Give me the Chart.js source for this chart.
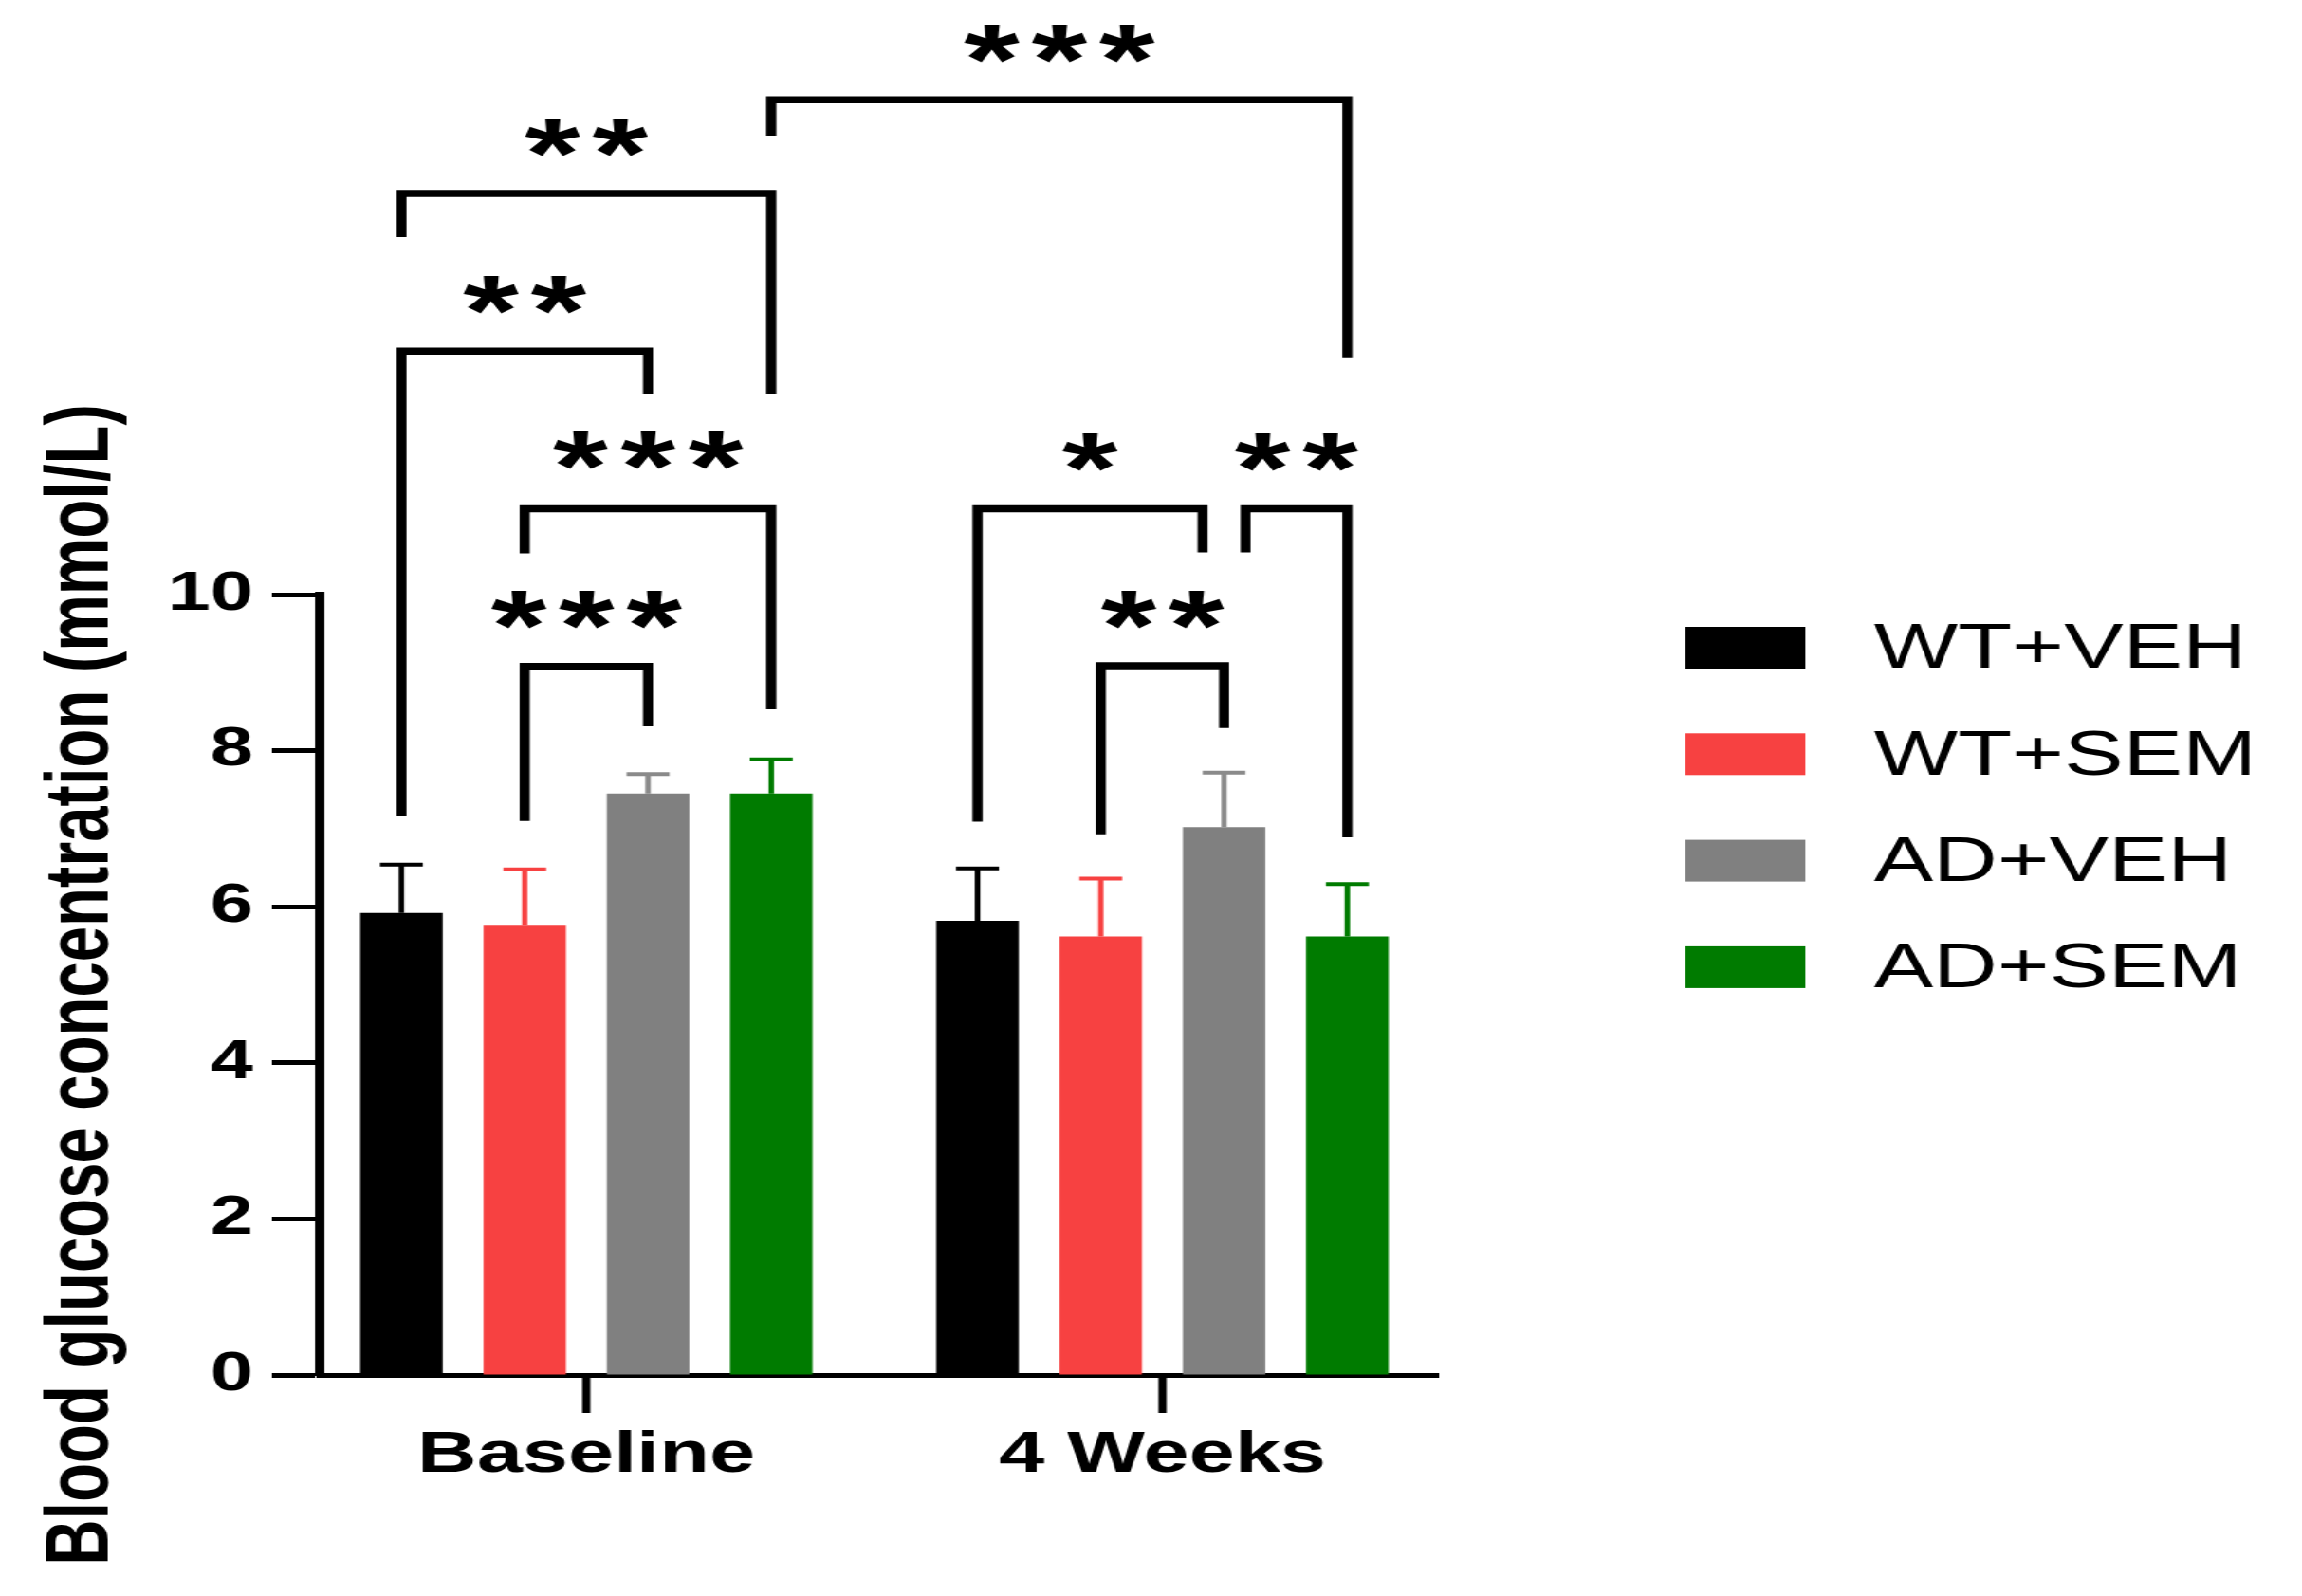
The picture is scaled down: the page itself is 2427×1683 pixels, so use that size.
<!DOCTYPE html>
<html>
<head>
<meta charset="utf-8">
<style>
  body { margin: 0; background: #fff; }
</style>
</head>
<body>
<!-- the original figure is stretched sideways, so the canvas buffer is stretched to the page width -->
<canvas id="glucose" width="1710" height="1683" style="display:block;width:2427px;height:1683px"></canvas>
<script src="https://cdn.jsdelivr.net/npm/chart.js"></script>
<script>
// data (mmol/L)
const categories = ['Baseline', '4 Weeks'];
const groups = ['WT+VEH', 'WT+SEM', 'AD+VEH', 'AD+SEM'];
const colors = ['#000000', '#f74141', '#808080', '#007b00'];
const errColors = ['#000000', '#f74141', '#8a8a8a', '#007b00'];

const wtVeh = [5.92, 5.82];
const wtSem = [5.77, 5.62];
const adVeh = [7.45, 7.02];
const adSem = [7.45, 5.62];

const wtVehErr = [0.62, 0.67];
const wtSemErr = [0.71, 0.74];
const adVehErr = [0.25, 0.70];
const adSemErr = [0.44, 0.67];

const yTicks = [0, 2, 4, 6, 8, 10];

// significance brackets: [dataset, category] of each leg, bar height, leg ends, label
const brackets = [
  { a: [1, 0], b: [2, 0], y: 9.08, ya: 7.10, yb: 8.31, text: '***', ty: 9.75 },
  { a: [1, 0], b: [3, 0], y: 11.10, ya: 10.53, yb: 8.53, text: '***', ty: 11.79 },
  { a: [0, 0], b: [2, 0], y: 13.12, ya: 7.16, yb: 12.57, text: '**', ty: 13.79 },
  { a: [0, 0], b: [3, 0], y: 15.14, ya: 14.58, yb: 12.57, text: '**', ty: 15.80 },
  { a: [3, 0], b: [3, 1], y: 16.34, ya: 15.88, yb: 13.04, text: '***', ty: 17.01 },
  { a: [0, 1], b: [2, 1], y: 11.10, ya: 7.09, yb: 10.54, text: '*', ty: 11.77, sb: -0.26 },
  { a: [2, 1], b: [3, 1], y: 11.10, ya: 10.54, yb: 6.89, text: '**', ty: 11.77, sa: 0.26 },
  { a: [1, 1], b: [2, 1], y: 9.09, ya: 6.93, yb: 8.29, text: '**', ty: 9.76 }
];

const values = [wtVeh, wtSem, adVeh, adSem];
const errors = [wtVehErr, wtSemErr, adVehErr, adSemErr];

const FONT = "'Liberation Sans', Arial, sans-serif";

const errorBars = {
  id: 'errorBars',
  afterDatasetsDraw(chart) {
    const ctx = chart.ctx;
    const y = chart.scales.y;
    ctx.save();
    ctx.lineWidth = 4;
    chart.data.datasets.forEach((ds, d) => {
      chart.getDatasetMeta(d).data.forEach((bar, i) => {
        const top = y.getPixelForValue(ds.data[i].y + errors[d][i]);
        const half = bar.width * 0.26;
        ctx.strokeStyle = errColors[d];
        ctx.beginPath();
        ctx.moveTo(bar.x, bar.y);
        ctx.lineTo(bar.x, top);
        ctx.moveTo(bar.x - half, top);
        ctx.lineTo(bar.x + half, top);
        ctx.stroke();
      });
    });
    ctx.restore();
  }
};

const sigBrackets = {
  id: 'sigBrackets',
  afterDraw(chart) {
    const ctx = chart.ctx;
    const y = chart.scales.y;
    const size = 106;
    const gap = 9;
    ctx.save();
    ctx.strokeStyle = '#000';
    ctx.lineWidth = 7.5;
    ctx.lineJoin = 'miter';
    ctx.lineCap = 'butt';
    ctx.fillStyle = '#000';
    ctx.font = 'bold ' + size + 'px ' + FONT;
    ctx.letterSpacing = gap + 'px';
    ctx.textAlign = 'center';
    ctx.textBaseline = 'alphabetic';
    brackets.forEach(b => {
      const barA = chart.getDatasetMeta(b.a[0]).data[b.a[1]];
      const barB = chart.getDatasetMeta(b.b[0]).data[b.b[1]];
      const xa = barA.x + (b.sa || 0) * barA.width;
      const xb = barB.x + (b.sb || 0) * barB.width;
      ctx.beginPath();
      ctx.moveTo(xa, y.getPixelForValue(b.ya));
      ctx.lineTo(xa, y.getPixelForValue(b.y));
      ctx.lineTo(xb, y.getPixelForValue(b.y));
      ctx.lineTo(xb, y.getPixelForValue(b.yb));
      ctx.stroke();
      ctx.fillText(b.text, (xa + xb) / 2 + gap / 2, y.getPixelForValue(b.ty) + size * 0.46);
    });
    ctx.restore();
  }
};

const sideLegend = {
  id: 'sideLegend',
  afterDraw(chart) {
    const ctx = chart.ctx;
    ctx.save();
    ctx.font = '66px ' + FONT;
    ctx.textBaseline = 'middle';
    ctx.textAlign = 'left';
    chart.data.datasets.forEach((ds, i) => {
      const cy = 683 + i * 112.3;
      ctx.fillStyle = ds.backgroundColor;
      ctx.fillRect(1252, cy - 22, 89, 44);
      ctx.fillStyle = '#000';
      ctx.fillText(ds.label, 1392, cy + 3);
    });
    ctx.restore();
  }
};

const ctxG = document.getElementById('glucose');

const chartG = new Chart(ctxG, {
  type: 'bar',
  data: {
    datasets: groups.map((g, d) => ({
      label: g,
      data: values[d].map((v, i) => ({ x: i, y: v })),
      backgroundColor: colors[d],
      borderWidth: 0,
      categoryPercentage: 0.856,
      barPercentage: 0.669
    }))
  },
  options: {
    responsive: false,
    devicePixelRatio: 1,
    animation: false,
    layout: {
      padding: { top: 627, left: 28, right: 642, bottom: 83 }
    },
    plugins: {
      legend: { display: false },
      tooltip: { enabled: false }
    },
    scales: {
      x: {
        type: 'linear',
        min: -0.464,
        max: 1.478,
        offset: false,
        afterBuildTicks: (scale) => {
          scale.ticks = categories.map((c, i) => ({ value: i }));
        },
        afterFit: (scale) => { scale.height = 150; },
        ticks: {
          callback: (v) => categories[v],
          color: '#000',
          padding: 15,
          maxRotation: 0,
          font: { family: FONT, size: 61, weight: 'bold', lineHeight: 1 }
        },
        grid: {
          offset: false,
          drawOnChartArea: false,
          drawTicks: true,
          tickLength: 40,
          tickWidth: 6,
          tickColor: '#000'
        },
        border: { display: true, color: '#000', width: 5 }
      },
      y: {
        min: 0,
        max: 10,
        afterBuildTicks: (scale) => {
          scale.ticks = yTicks.map(v => ({ value: v }));
        },
        afterFit: (scale) => { scale.width = 209; },
        ticks: {
          color: '#000',
          padding: 14,
          font: { family: FONT, size: 57, weight: 'bold', lineHeight: 1 }
        },
        grid: {
          drawOnChartArea: false,
          drawTicks: true,
          tickLength: 35,
          tickWidth: 5,
          tickColor: '#000'
        },
        border: { display: true, color: '#000', width: 7 },
        title: {
          display: true,
          text: 'Blood glucose concentration (mmol/L)',
          color: '#000',
          padding: 0,
          font: { family: FONT, size: 67, weight: 'bold', lineHeight: 1 }
        }
      }
    }
  },
  plugins: [errorBars, sigBrackets, sideLegend]
});
</script>
</body>
</html>
